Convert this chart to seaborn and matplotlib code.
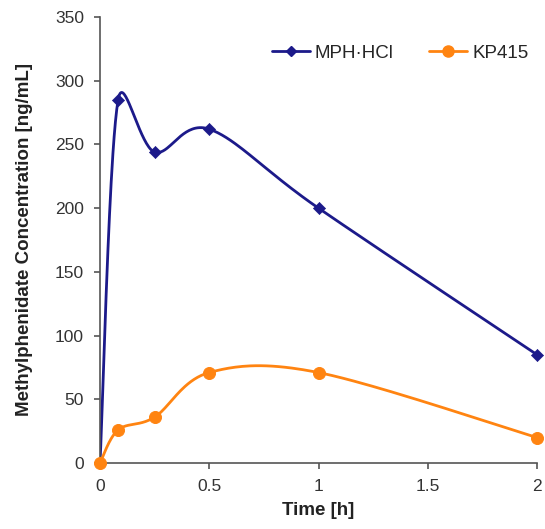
import numpy as np
import pandas as pd
import seaborn as sns
import matplotlib.pyplot as plt
from matplotlib.lines import Line2D

# data
time_h = [0, 0.083, 0.25, 0.5, 1, 2]
mph_hcl = [0, 285, 244, 262, 200, 85]
kp415 = [0, 26, 36, 71, 71, 20]

navy = '#1c1a8a'
orange = '#ff8411'

# rough pixels per data unit, used so the smoothing behaves like on screen
SX, SY = 218.5, 1.274


def smooth(xs, ys, n=40, clip=0.5):
    # Excel-style smoothed line (Bezier through the points)
    p = np.column_stack([np.array(xs) * SX, np.array(ys) * SY]).astype(float)
    out = []
    for i in range(len(p) - 1):
        p0 = p[i - 1] if i > 0 else p[i]
        p1, p2 = p[i], p[i + 1]
        p3 = p[i + 2] if i + 2 < len(p) else p[i + 1]
        seglen = np.hypot(*(p2 - p1))
        t1 = (p2 - p0) / 6
        t2 = (p3 - p1) / 6
        for t in (t1, t2):
            L = np.hypot(*t)
            if L > clip * seglen:
                t *= clip * seglen / L
        c1 = p1 + t1
        c2 = p2 - t2
        t = np.linspace(0, 1, n)[:, None]
        seg = (1 - t) ** 3 * p1 + 3 * (1 - t) ** 2 * t * c1 + 3 * (1 - t) * t ** 2 * c2 + t ** 3 * p2
        out.append(seg if i == 0 else seg[1:])
    c = np.vstack(out)
    return c[:, 0] / SX, c[:, 1] / SY


sns.set_style('ticks')
plt.rcParams['font.family'] = ['Liberation Sans', 'DejaVu Sans']

fig = plt.figure(figsize=(5.45, 5.29), dpi=100)
ax = fig.add_axes([100 / 545, 66 / 529, 437 / 545, 446 / 529])

for ys, col, mk, ms in [(mph_hcl, navy, 'D', 38), (kp415, orange, 'o', 75)]:
    cx, cy = smooth(time_h, ys)
    sns.lineplot(x=cx, y=cy, sort=False, color=col, lw=2, ax=ax)
    sns.scatterplot(x=time_h, y=ys, marker=mk, s=ms, color=col, edgecolor=col, ax=ax, zorder=3, clip_on=False)

ax.set_xlim(0, 2)
ax.set_ylim(0, 350)
ax.set_xticks([0, 0.5, 1, 1.5, 2])
ax.set_xticklabels(['0', '0.5', '1', '1.5', '2'])
ax.set_yticks(range(0, 351, 50))
ax.tick_params(labelsize=12.5, colors='#555555', labelcolor='#333333', length=4.5, width=1.2, pad=7)
for s in ['left', 'bottom']:
    ax.spines[s].set_color('#555555')
    ax.spines[s].set_linewidth(1.2)
sns.despine(ax=ax)

ax.set_xlabel('Time [h]', fontsize=13.5, fontweight='bold', color='#222222', labelpad=6)
ax.set_ylabel('Methylphenidate Concentration [ng/mL]', fontsize=13.5, fontweight='bold', color='#222222', labelpad=16)

handles = [
    Line2D([], [], color=navy, lw=2, marker='D', markersize=5),
    Line2D([], [], color=orange, lw=2, marker='o', markersize=8),
]
ax.legend(handles, ['MPH·HCl', 'KP415'], ncol=2, frameon=False, fontsize=13.5,
          loc='center right', bbox_to_anchor=(0.98, 0.919), borderpad=0, borderaxespad=0,
          handlelength=2.0, handletextpad=0.27, columnspacing=1.9)

fig.savefig('out.png', dpi=100)
